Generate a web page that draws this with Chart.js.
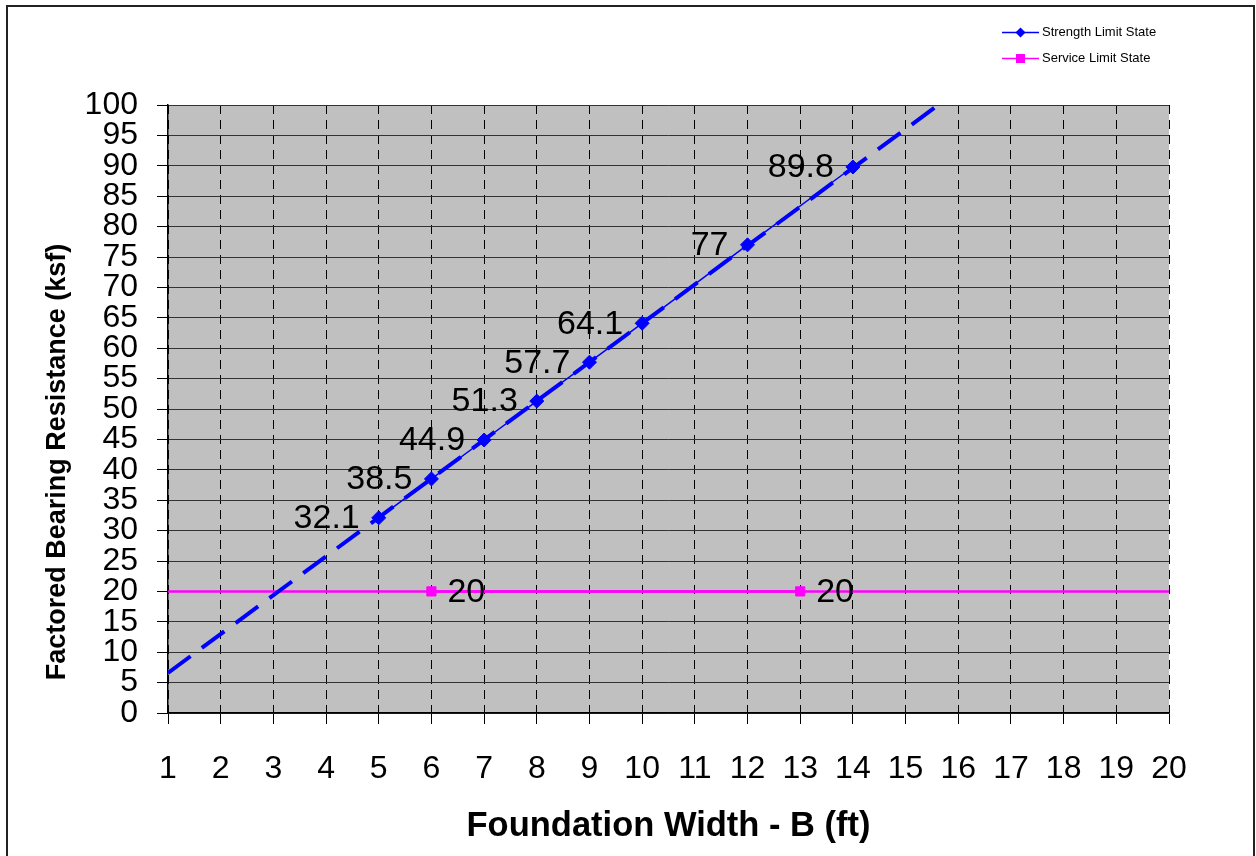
<!DOCTYPE html>
<html>
<head>
<meta charset="utf-8">
<script src="https://cdn.jsdelivr.net/npm/chart.js@4.4.0/dist/chart.umd.min.js"></script>
<style>
  html, body { margin: 0; padding: 0; background: #fff; }
  #wrap { position: relative; width: 1256px; height: 856px; overflow: hidden; }
  #bearingChart { display: block; }
  #frame { position: absolute; left: 6px; top: 5px; width: 1249px; height: 900px; border: 2px solid #222; box-sizing: border-box; pointer-events: none; }
</style>
</head>
<body>
<div id="wrap">
  <canvas id="bearingChart" width="1256" height="856"></canvas>
  <div id="frame"></div>
</div>
<script>
// values
const widthsFt = [5, 6, 7, 8, 9, 10, 12, 14];
const strengthKsf = [32.1, 38.5, 44.9, 51.3, 57.7, 64.1, 77, 89.8];
const serviceWidthsFt = [6, 13];
const serviceKsf = [20, 20];
// trend lines: end points as they appear in the picture
const strengthTrendX = [1, 15.62];
const strengthTrendY = [6.6, 100];
const serviceTrendX = [1, 20];
const serviceTrendY = [20, 20];
// axis ranges / tick steps
const xRange = [1, 20];
const yRange = [0, 100];
const yStep = 5;

const FONT = '"Liberation Sans", Arial, sans-serif';
const Y_TITLE = 'Factored Bearing Resistance (ksf)';

function pairUp(xs, ys) {
    return xs.map((x, i) => ({ x: x, y: ys[i] }));
}

// gray plot background
const plotBackground = {
    id: 'plotBackground',
    beforeDraw(chart) {
        const { ctx, chartArea: a } = chart;
        ctx.save();
        ctx.fillStyle = '#c0c0c0';
        ctx.fillRect(a.left, a.top, a.right - a.left, a.bottom - a.top);
        ctx.restore();
    }
};

// y title sits a bit below the middle of the axis in the original, so draw it here
const yTitle = {
    id: 'yTitle',
    afterDraw(chart) {
        const ctx = chart.ctx;
        ctx.save();
        ctx.translate(58, 462);
        ctx.rotate(-Math.PI / 2);
        ctx.font = 'bold 27px ' + FONT;
        ctx.fillStyle = '#000';
        ctx.textAlign = 'center';
        ctx.textBaseline = 'middle';
        ctx.fillText(Y_TITLE, 0, 0);
        ctx.restore();
    }
};

// value labels next to the markers
const pointLabels = {
    id: 'pointLabels',
    afterDatasetsDraw(chart) {
        const ctx = chart.ctx;
        ctx.save();
        ctx.font = '34px ' + FONT;
        ctx.fillStyle = '#000';
        ctx.textBaseline = 'middle';
        chart.data.datasets.forEach((ds, i) => {
            if (!ds.labelSide) return;
            chart.getDatasetMeta(i).data.forEach((pt, j) => {
                const left = ds.labelSide === 'left';
                ctx.textAlign = left ? 'right' : 'left';
                ctx.fillText(String(ds.data[j].y), pt.x + (left ? -19 : 16), pt.y + 1);
            });
        });
        ctx.restore();
    }
};

// small legend top right (line + marker like the original)
const seriesLegend = {
    id: 'seriesLegend',
    afterDraw(chart) {
        const ctx = chart.ctx;
        const rows = chart.data.datasets.filter(ds => ds.inLegend);
        rows.forEach((ds, i) => {
            const y = 32.5 + i * 26;
            ctx.save();
            ctx.strokeStyle = ds.borderColor;
            ctx.lineWidth = 1.5;
            ctx.beginPath();
            ctx.moveTo(1002, y);
            ctx.lineTo(1039, y);
            ctx.stroke();
            ctx.fillStyle = ds.backgroundColor;
            ctx.beginPath();
            if (ds.pointStyle === 'rectRot') {
                ctx.moveTo(1020.5 - 5, y);
                ctx.lineTo(1020.5, y - 5);
                ctx.lineTo(1020.5 + 5, y);
                ctx.lineTo(1020.5, y + 5);
                ctx.closePath();
            } else {
                ctx.rect(1016, y - 4.5, 9, 9);
            }
            ctx.fill();
            ctx.fillStyle = '#000';
            ctx.font = '13px ' + FONT;
            ctx.textAlign = 'left';
            ctx.textBaseline = 'middle';
            ctx.fillText(ds.label, 1042, y);
            ctx.restore();
        });
    }
};

const ctx = document.getElementById('bearingChart').getContext('2d');

new Chart(ctx, {
    type: 'line',
    data: {
        datasets: [
            {
                label: 'Strength Limit State',
                data: pairUp(widthsFt, strengthKsf),
                borderColor: '#0000ff',
                backgroundColor: '#0000ff',
                borderWidth: 1.5,
                pointStyle: 'rectRot',
                pointRadius: 7,
                pointBorderWidth: 1,
                labelSide: 'left',
                inLegend: true
            },
            {
                label: 'Service Limit State',
                data: pairUp(serviceWidthsFt, serviceKsf),
                borderColor: '#ff00ff',
                backgroundColor: '#ff00ff',
                borderWidth: 2.5,
                pointStyle: 'rect',
                pointRadius: 6.5,
                pointBorderWidth: 1,
                labelSide: 'right',
                inLegend: true
            },
            {
                label: 'Strength trend',
                data: pairUp(strengthTrendX, strengthTrendY),
                borderColor: '#0000ff',
                borderWidth: 4,
                borderDash: [28, 14],
                pointRadius: 0
            },
            {
                label: 'Service trend',
                data: pairUp(serviceTrendX, serviceTrendY),
                borderColor: '#ff00ff',
                borderWidth: 2.5,
                pointRadius: 0
            }
        ]
    },
    options: {
        responsive: false,
        animation: false,
        layout: { padding: { top: 105, right: 87, left: 0, bottom: 0 } },
        plugins: {
            legend: { display: false },
            tooltip: { enabled: false }
        },
        scales: {
            x: {
                type: 'linear',
                min: xRange[0],
                max: xRange[1],
                afterFit(scale) { scale.height = 143; },
                ticks: {
                    stepSize: 1,
                    autoSkip: false,
                    maxRotation: 0,
                    padding: 26,
                    color: '#000',
                    font: { family: FONT, size: 32 }
                },
                grid: { color: '#000', lineWidth: 1, tickLength: 11, tickColor: '#000' },
                border: { display: true, color: '#000', width: 1.5, dash: [9, 6] },
                title: {
                    display: true,
                    text: 'Foundation Width - B (ft)',
                    color: '#000',
                    font: { family: FONT, size: 34.5, weight: 'bold' },
                    padding: { top: 0, bottom: 9 }
                }
            },
            y: {
                type: 'linear',
                min: yRange[0],
                max: yRange[1],
                afterFit(scale) { scale.width = 168; },
                ticks: {
                    stepSize: yStep,
                    autoSkip: false,
                    padding: 19,
                    color: '#000',
                    font: { family: FONT, size: 32 }
                },
                grid: { color: '#333', lineWidth: 1, tickLength: 11, tickColor: '#000' },
                border: { display: true, color: '#000', width: 1.5 },
                title: { display: false }
            }
        }
    },
    plugins: [plotBackground, pointLabels, seriesLegend, yTitle]
});
</script>
</body>
</html>
